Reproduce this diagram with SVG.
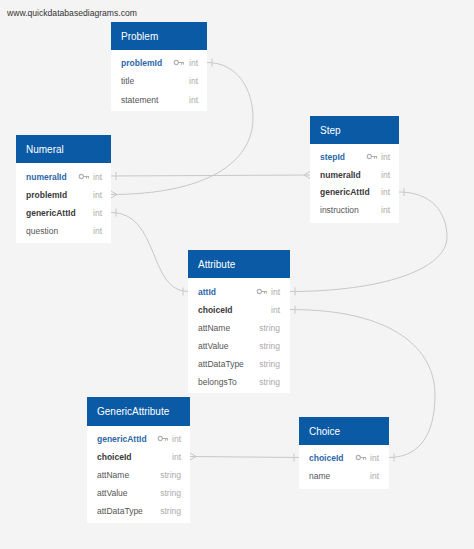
<svg xmlns="http://www.w3.org/2000/svg" width="474" height="549" viewBox="0 0 474 549">
<style>
.bg{fill:#f4f4f4}
.hdr{fill:#0a5aa5}
.body{fill:#ffffff}
.title{font-family:"Liberation Sans",Arial,sans-serif;font-size:10px;fill:#ffffff}
.pk{font-family:"Liberation Sans",Arial,sans-serif;font-size:8.5px;font-weight:bold;fill:#2b67a8}
.fk{font-family:"Liberation Sans",Arial,sans-serif;font-size:8.5px;font-weight:bold;fill:#3a3a3a}
.col{font-family:"Liberation Sans",Arial,sans-serif;font-size:8.5px;fill:#555555}
.typ{font-family:"Liberation Sans",Arial,sans-serif;font-size:8.5px;fill:#aaaaaa;text-anchor:end}
.site{font-family:"Liberation Sans",Arial,sans-serif;font-size:8.6px;fill:#333333}
.conn{fill:none;stroke:#c8c8c8;stroke-width:1}
.key{fill:none;stroke:#b0b0b0;stroke-width:1.1}
</style>
<defs>
<g id="keyicon">
<circle class="key" cx="2.3" cy="0" r="2.1"/>
<path class="key" d="M4.4,0 H10 M7.5,0 V2.2 M9.5,0 V2"/>
</g>
</defs>
<rect class="bg" x="0" y="0" width="474" height="549"/>
<text class="site" x="7" y="15.5">www.quickdatabasediagrams.com</text>

<g id="connectors">
<!-- Problem.problemId -> Numeral.problemId -->
<path class="conn" d="M207,62.5 C238,62.5 253,90 253,118 C253,163 205,194.5 111,194.5"/>
<path class="conn" d="M212,58.5 V66.5"/>
<path class="conn" d="M111,191 L117,194.5 L111,198"/>
<!-- Numeral.numeralId -> Step.numeralId -->
<path class="conn" d="M111,176 L310,175"/>
<path class="conn" d="M116,172 V180"/>
<path class="conn" d="M310,171.5 L304,175 L310,178.5"/>
<!-- Numeral.genericAttId -> Attribute.attId -->
<path class="conn" d="M111,212.5 C160,212.5 148,291.5 188,291.5"/>
<path class="conn" d="M116,208.5 V216.5"/>
<path class="conn" d="M183,287.5 V295.5"/>
<!-- Step.genericAttId -> Attribute.attId -->
<path class="conn" d="M399,192 C432,192 447,213 447,237 C447,270 380,291.5 290,291.5"/>
<path class="conn" d="M404,188 V196"/>
<path class="conn" d="M295,287.5 V295.5"/>
<!-- Attribute.choiceId -> Choice.choiceId -->
<path class="conn" d="M290,309.5 C395,309.5 435,350 435,395 C435,440 415,457.5 389,457.5"/>
<path class="conn" d="M295,305.5 V313.5"/>
<path class="conn" d="M394,453.5 V461.5"/>
<!-- GenericAttribute.choiceId -> Choice.choiceId -->
<path class="conn" d="M190,456.5 L299,457.5"/>
<path class="conn" d="M190,453 L196,456.5 L190,460"/>
<path class="conn" d="M294,453.5 V461.5"/>
</g>

<g id="Problem">
<rect class="body" x="111" y="50" width="96" height="61"/>
<rect class="hdr" x="111" y="22" width="96" height="28"/>
<text class="title" x="121" y="39.5">Problem</text>
<text class="pk" x="121" y="65.5">problemId</text>
<use href="#keyicon" x="174" y="62.5"/>
<text class="typ" x="198" y="65.5">int</text>
<text class="col" x="121" y="84">title</text>
<text class="typ" x="198" y="84">int</text>
<text class="col" x="121" y="102.5">statement</text>
<text class="typ" x="198" y="102.5">int</text>
</g>

<g id="Numeral">
<rect class="body" x="16" y="163" width="95" height="80"/>
<rect class="hdr" x="16" y="135" width="95" height="28"/>
<text class="title" x="26" y="152.5">Numeral</text>
<text class="pk" x="26" y="179.5">numeralId</text>
<use href="#keyicon" x="79" y="176.5"/>
<text class="typ" x="102" y="179.5">int</text>
<text class="fk" x="26" y="197.5">problemId</text>
<text class="typ" x="102" y="197.5">int</text>
<text class="fk" x="26" y="215.5">genericAttId</text>
<text class="typ" x="102" y="215.5">int</text>
<text class="col" x="26" y="233.5">question</text>
<text class="typ" x="102" y="233.5">int</text>
</g>

<g id="Step">
<rect class="body" x="310" y="144" width="89" height="79"/>
<rect class="hdr" x="310" y="116" width="89" height="28"/>
<text class="title" x="320" y="133.5">Step</text>
<text class="pk" x="320" y="159.5">stepId</text>
<use href="#keyicon" x="367" y="156.5"/>
<text class="typ" x="390" y="159.5">int</text>
<text class="fk" x="320" y="177.5">numeralId</text>
<text class="typ" x="390" y="177.5">int</text>
<text class="fk" x="320" y="195">genericAttId</text>
<text class="typ" x="390" y="195">int</text>
<text class="col" x="320" y="213">instruction</text>
<text class="typ" x="390" y="213">int</text>
</g>

<g id="Attribute">
<rect class="body" x="188" y="278" width="102" height="115"/>
<rect class="hdr" x="188" y="250" width="102" height="28"/>
<text class="title" x="198" y="267.5">Attribute</text>
<text class="pk" x="198" y="294.5">attId</text>
<use href="#keyicon" x="257" y="291.5"/>
<text class="typ" x="280" y="294.5">int</text>
<text class="fk" x="198" y="312.5">choiceId</text>
<text class="typ" x="280" y="312.5">int</text>
<text class="col" x="198" y="330.5">attName</text>
<text class="typ" x="280" y="330.5">string</text>
<text class="col" x="198" y="348.5">attValue</text>
<text class="typ" x="280" y="348.5">string</text>
<text class="col" x="198" y="366.5">attDataType</text>
<text class="typ" x="280" y="366.5">string</text>
<text class="col" x="198" y="384.5">belongsTo</text>
<text class="typ" x="280" y="384.5">string</text>
</g>

<g id="GenericAttribute">
<rect class="body" x="87" y="426" width="103" height="97"/>
<rect class="hdr" x="87" y="397" width="103" height="29"/>
<text class="title" x="97" y="415">GenericAttribute</text>
<text class="pk" x="97" y="441.5">genericAttId</text>
<use href="#keyicon" x="158" y="438.5"/>
<text class="typ" x="181" y="441.5">int</text>
<text class="fk" x="97" y="459.5">choiceId</text>
<text class="typ" x="181" y="459.5">int</text>
<text class="col" x="97" y="477.5">attName</text>
<text class="typ" x="181" y="477.5">string</text>
<text class="col" x="97" y="495.5">attValue</text>
<text class="typ" x="181" y="495.5">string</text>
<text class="col" x="97" y="513.5">attDataType</text>
<text class="typ" x="181" y="513.5">string</text>
</g>

<g id="Choice">
<rect class="body" x="299" y="445" width="90" height="44"/>
<rect class="hdr" x="299" y="417" width="90" height="28"/>
<text class="title" x="309" y="434.5">Choice</text>
<text class="pk" x="309" y="460.5">choiceId</text>
<use href="#keyicon" x="356" y="457.5"/>
<text class="typ" x="379" y="460.5">int</text>
<text class="col" x="309" y="478.5">name</text>
<text class="typ" x="379" y="478.5">int</text>
</g>
</svg>
